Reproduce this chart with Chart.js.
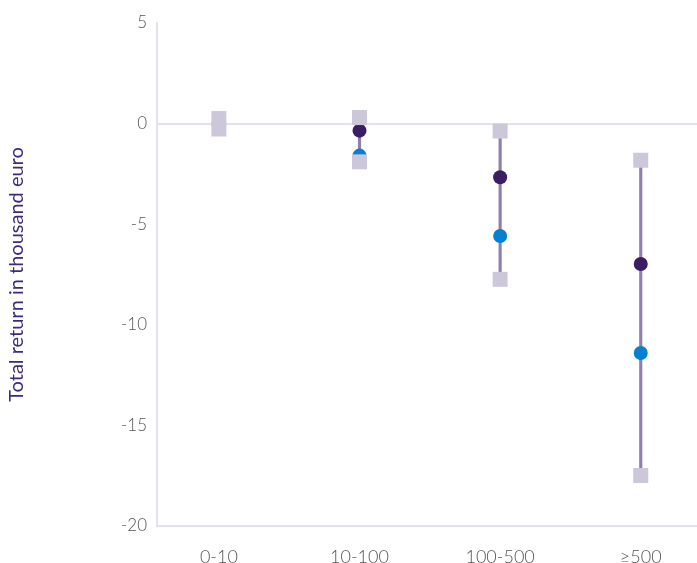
<!DOCTYPE html>
<html>
<head>
<meta charset="utf-8">
<script src="https://cdn.jsdelivr.net/npm/chart.js@4"></script>
<style>
  html, body { margin: 0; padding: 0; background: #fff; overflow: hidden; }
  #wrap { position: relative; width: 697px; height: 563px; }
  #rangeChart { display: block; }
</style>
</head>
<body>
<div id="wrap"><canvas id="rangeChart"></canvas></div>
<script>
const categories = ['0-10', '10-100', '100-500', '\u2265500'];
const highValues = [0.25, 0.3, -0.37, -1.82];
const lowValues = [-0.27, -1.9, -7.74, -17.49];
const medianValues = [-0.05, -0.35, -2.67, -6.98];
const meanValues = [-0.1, -1.59, -5.59, -11.4];
const yTicks = [5, 0, -5, -10, -15, -20];

const toPoints = (arr) => arr.map((v, i) => ({ x: i, y: v }));

const data = {
  datasets: [
    {
      type: 'scatter',
      label: 'High',
      data: toPoints(highValues),
      pointStyle: 'rect',
      pointRadius: 10.6,
      pointBorderWidth: 0,
      backgroundColor: '#cdc7da',
      order: 0,
    },
    {
      type: 'scatter',
      label: 'Low',
      data: toPoints(lowValues),
      pointStyle: 'rect',
      pointRadius: 10.6,
      pointBorderWidth: 0,
      backgroundColor: '#cdc7da',
      order: 0,
    },
    {
      type: 'scatter',
      label: 'Median',
      data: toPoints(medianValues),
      pointRadius: 7,
      pointBorderWidth: 0,
      backgroundColor: '#3a1d63',
      order: 1,
    },
    {
      type: 'scatter',
      label: 'Mean',
      data: toPoints(meanValues),
      pointRadius: 7,
      pointBorderWidth: 0,
      backgroundColor: '#0680d1',
      order: 2,
    },
    {
      type: 'bar',
      label: 'Range',
      data: categories.map((c, i) => ({ x: i, y: [lowValues[i], highValues[i]] })),
      backgroundColor: '#8e7fab',
      barThickness: 2.5,
      order: 3,
    },
  ],
};

const config = {
  data: data,
  options: {
    responsive: true,
    maintainAspectRatio: false,
    animation: false,
    layout: { autoPadding: false, padding: { top: 23, right: 0, bottom: 0, left: 0 } },
    plugins: {
      legend: { display: false },
      tooltip: { enabled: false },
    },
    scales: {
      x: {
        type: 'linear',
        min: -0.44,
        max: 3.4,
        offset: false,
        grid: { display: false },
        border: { display: true, color: '#e4e2ea', width: 2 },
        ticks: {
          stepSize: 1,
          includeBounds: false,
          maxRotation: 0,
          padding: 12,
          color: '#555',
          font: { family: 'Lato', size: 18, weight: 300 },
          callback: (v) => (Number.isInteger(v) ? categories[v] : ''),
        },
        afterFit: (scale) => {
          scale.height = 37;
          scale.paddingLeft = 0;
          scale.paddingRight = 0;
        },
      },
      y: {
        type: 'linear',
        min: -20,
        max: 5,
        grid: {
          drawTicks: false,
          lineWidth: 2,
          color: (ctx) => (ctx.tick && ctx.tick.value === 0 ? '#e4e2ea' : 'rgba(0,0,0,0)'),
        },
        border: { display: true, color: '#e4e2ea', width: 2 },
        ticks: {
          stepSize: 5,
          padding: 10,
          color: '#555',
          font: { family: 'Lato', size: 17, weight: 300 },
        },
        title: {
          display: true,
          text: 'Total return in thousand euro',
          color: '#3d2a7a',
          font: { family: 'Lato', size: 20 },
          padding: { top: 5, bottom: 20 },
        },
        afterFit: (scale) => { scale.width = 157; },
      },
    },
  },
};

new Chart(document.getElementById('rangeChart'), config);
</script>
</body>
</html>
